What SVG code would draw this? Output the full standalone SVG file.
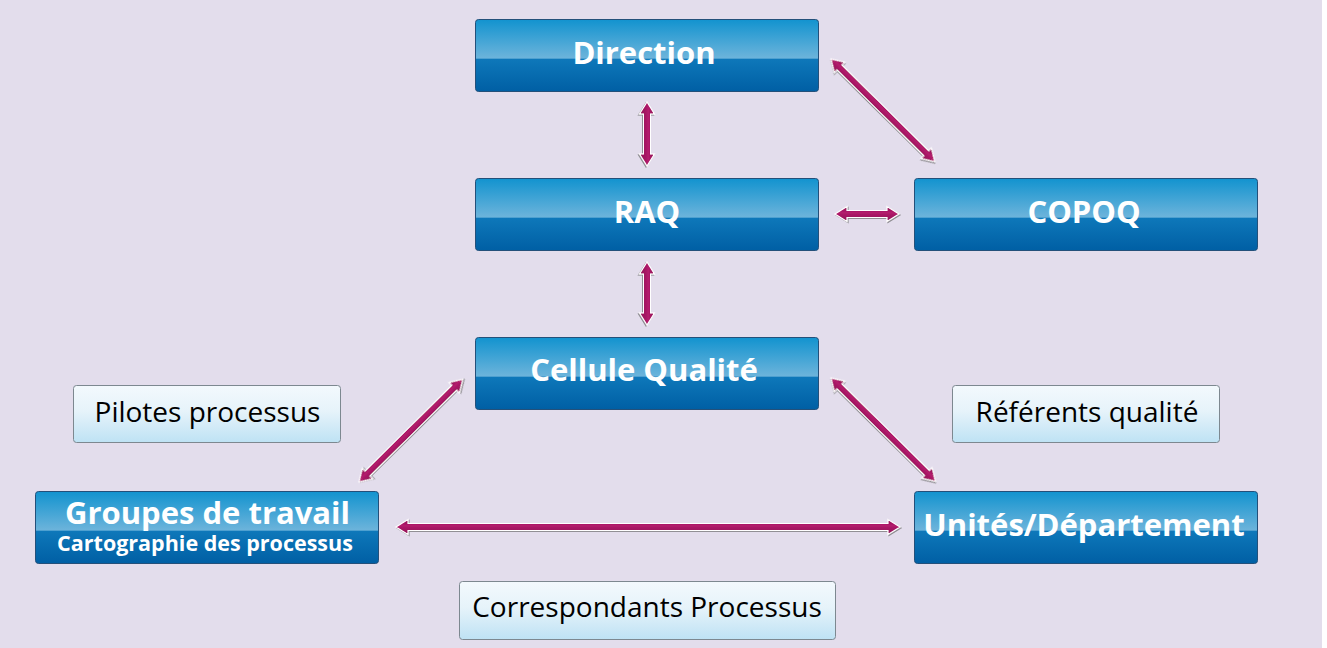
<svg xmlns="http://www.w3.org/2000/svg" width="1327" height="648" viewBox="0 0 1327 648">
  <defs>
    <linearGradient id="gBlue" x1="0" y1="0" x2="0" y2="1">
      <stop offset="0" stop-color="#1293CF"/>
      <stop offset="0.54" stop-color="#6DB4DB"/>
      <stop offset="0.545" stop-color="#0E78BA"/>
      <stop offset="1" stop-color="#005FA4"/>
    </linearGradient>
    <linearGradient id="gLight" x1="0" y1="0" x2="0" y2="1">
      <stop offset="0" stop-color="#F3F9FD"/>
      <stop offset="0.45" stop-color="#E6F3FA"/>
      <stop offset="1" stop-color="#BEE2F4"/>
    </linearGradient>
    <linearGradient id="gArrow" x1="0" y1="0" x2="0" y2="1">
      <stop offset="0" stop-color="#8A0B50"/>
      <stop offset="0.4" stop-color="#B31C6C"/>
      <stop offset="1" stop-color="#8C0D54"/>
    </linearGradient>
    <filter id="shadow" x="-20%" y="-20%" width="140%" height="140%">
      <feDropShadow dx="1" dy="1" stdDeviation="0.6" flood-color="#6E6E6E" flood-opacity="0.7"/>
    </filter>
  </defs>
  <style>
    .box { fill: url(#gBlue); stroke: #24507A; stroke-width: 1; }
    .lbox { fill: url(#gLight); stroke: #7D8890; stroke-width: 1; }
    .wt { font-family: "Open Sans", "Noto Sans", sans-serif; font-weight: 700; fill: #FFFFFF; text-anchor: middle; }
    .bt { font-family: "Open Sans", "Noto Sans", sans-serif; font-weight: 500; fill: #000000; text-anchor: middle; font-size: 28px; }
    .arrow { fill: url(#gArrow); stroke: #FFFFFF; stroke-width: 1.2; filter: url(#shadow); }
  </style>

  <!-- background -->
  <rect x="0" y="0" width="1327" height="648" fill="#FFFFFF"/>
  <rect x="0" y="0" width="1322" height="648" fill="#E3DDEC"/>

  <!-- connectors: double-headed arrows, drawn along local x axis then placed -->
  <g id="connectors">
    <!-- Direction <-> RAQ -->
    <path class="arrow" transform="translate(647,102) rotate(90)" d="M0,0 L12,-7.5 L12,-3.5 L52,-3.5 L52,-7.5 L64,0 L52,7.5 L52,3.5 L12,3.5 L12,7.5 Z"/>
    <!-- RAQ <-> Cellule Qualité -->
    <path class="arrow" transform="translate(647,262) rotate(90)" d="M0,0 L12,-7.5 L12,-3.5 L51,-3.5 L51,-7.5 L63,0 L51,7.5 L51,3.5 L12,3.5 L12,7.5 Z"/>
    <!-- RAQ <-> COPOQ -->
    <path class="arrow" transform="translate(835,214)" d="M0,0 L12,-7.5 L12,-3.5 L52,-3.5 L52,-7.5 L64,0 L52,7.5 L52,3.5 L12,3.5 L12,7.5 Z"/>
    <!-- Direction <-> COPOQ -->
    <path class="arrow" transform="translate(831,59) rotate(44.7)" d="M0,0 L12,-7.5 L12,-3.5 L134,-3.5 L134,-7.5 L146,0 L134,7.5 L134,3.5 L12,3.5 L12,7.5 Z"/>
    <!-- Cellule Qualité <-> Groupes de travail -->
    <path class="arrow" transform="translate(359,482) rotate(-44.7)" d="M0,0 L12,-7.5 L12,-3.5 L134,-3.5 L134,-7.5 L146,0 L134,7.5 L134,3.5 L12,3.5 L12,7.5 Z"/>
    <!-- Cellule Qualité <-> Unités/Département -->
    <path class="arrow" transform="translate(831,378) rotate(44.7)" d="M0,0 L12,-7.5 L12,-3.5 L135,-3.5 L135,-7.5 L147,0 L135,7.5 L135,3.5 L12,3.5 L12,7.5 Z"/>
    <!-- Groupes de travail <-> Unités/Département -->
    <path class="arrow" transform="translate(396,527)" d="M0,0 L12,-7.5 L12,-3.5 L492,-3.5 L492,-7.5 L504,0 L492,7.5 L492,3.5 L12,3.5 L12,7.5 Z"/>
  </g>

  <g id="direction">
    <rect class="box" x="475.5" y="19.5" width="343" height="72" rx="3"/>
    <text class="wt" x="644" y="64" font-size="31">Direction</text>
  </g>

  <g id="raq">
    <rect class="box" x="475.5" y="178.5" width="343" height="72" rx="3"/>
    <text class="wt" x="647" y="223" font-size="31">RAQ</text>
  </g>

  <g id="copoq">
    <rect class="box" x="914.5" y="178.5" width="343" height="72" rx="3"/>
    <text class="wt" x="1084" y="223" font-size="31">COPOQ</text>
  </g>

  <g id="cellule-qualite">
    <rect class="box" x="475.5" y="337.5" width="343" height="72" rx="3"/>
    <text class="wt" x="644" y="381" font-size="31">Cellule Qualité</text>
  </g>

  <g id="groupes-travail">
    <rect class="box" x="35.5" y="491.5" width="343" height="72" rx="3"/>
    <text class="wt" x="207.5" y="524" font-size="31">Groupes de travail</text>
    <text class="wt" x="205" y="551" font-size="21.5">Cartographie des processus</text>
  </g>

  <g id="unites-departement">
    <rect class="box" x="914.5" y="491.5" width="343" height="72" rx="3"/>
    <text class="wt" x="1084" y="536" font-size="31">Unités/Département</text>
  </g>

  <g id="pilotes-processus">
    <rect class="lbox" x="73.5" y="385.5" width="267" height="57" rx="3"/>
    <text class="bt" x="207.5" y="421.5">Pilotes processus</text>
  </g>

  <g id="referents-qualite">
    <rect class="lbox" x="952.5" y="385.5" width="267" height="57" rx="3"/>
    <text class="bt" x="1087" y="421.5">Référents qualité</text>
  </g>

  <g id="correspondants-processus">
    <rect class="lbox" x="459.5" y="581.5" width="376" height="58" rx="3"/>
    <text class="bt" x="647" y="617">Correspondants Processus</text>
  </g>
</svg>
